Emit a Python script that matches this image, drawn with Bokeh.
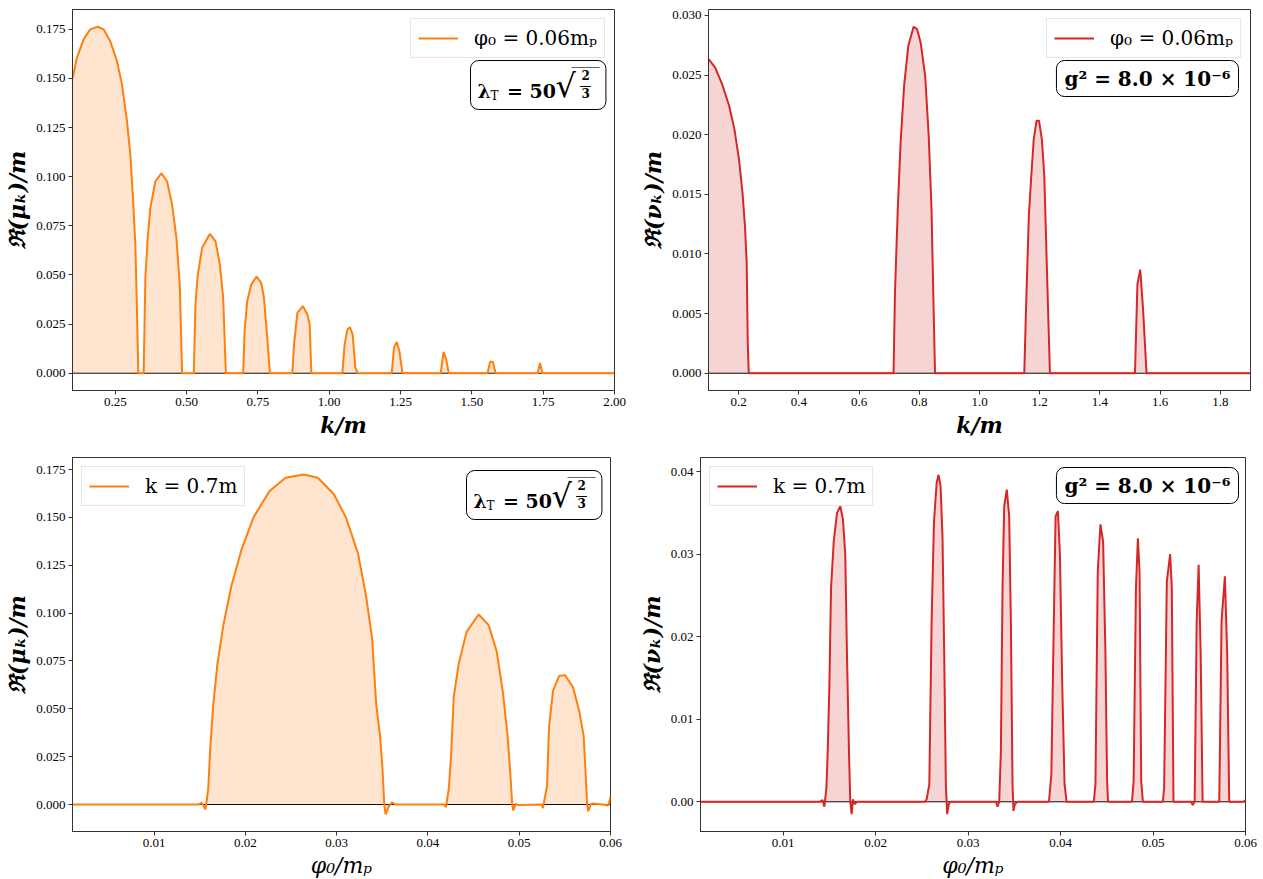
from bokeh.plotting import figure
from bokeh.models import (Range1d, FixedTicker, PrintfTickFormatter, Span, Label,
                          Legend, LegendItem)
from bokeh.layouts import column, row
from bokeh.embed import file_html
from bokeh.resources import INLINE

# ---------------- data ----------------
# top-left: Re(mu_k)/m vs k/m, phi0 = 0.06 m_p
k_tl = [0.1, 0.1153, 0.1388, 0.162, 0.188, 0.209, 0.2324, 0.2559, 0.2734, 0.291, 0.3027, 0.312, 0.3203, 0.326, 0.3308, 0.3495,
        0.3554, 0.3636, 0.373, 0.3905, 0.4116, 0.4315, 0.449, 0.4643, 0.476, 0.4842, 0.5252,
        0.531, 0.5392, 0.5545, 0.5814, 0.6013, 0.6165, 0.6282, 0.6376, 0.6985,
        0.7032, 0.7125, 0.7266, 0.7453, 0.7617, 0.7711, 0.7828, 0.7922, 0.8706,
        0.8765, 0.8882, 0.9081, 0.9233, 0.9315, 0.9374, 1.046,
        1.054, 1.0635, 1.0727, 1.0821, 1.0915, 1.1008, 1.219,
        1.227, 1.2366, 1.246, 1.2566, 1.391,
        1.4006, 1.410, 1.419, 1.555,
        1.564, 1.5737, 1.583, 1.7306,
        1.7387, 1.747, 2.0]
mu_tl = [0.150, 0.1605, 0.1699, 0.175, 0.1763, 0.175, 0.169, 0.1588, 0.147, 0.1283, 0.1113, 0.0893, 0.0655, 0.0316, 0.0, 0.0,
         0.0485, 0.0689, 0.0842, 0.0977, 0.1017, 0.0977, 0.0859, 0.0689, 0.0451, 0.0, 0.0,
         0.035, 0.0502, 0.0638, 0.0709, 0.0672, 0.0553, 0.0384, 0.0, 0.0,
         0.0214, 0.0367, 0.0451, 0.0492, 0.046, 0.0384, 0.018, 0.0, 0.0,
         0.0146, 0.0307, 0.0341, 0.0299, 0.0248, 0.0, 0.0,
         0.0146, 0.0222, 0.0234, 0.0197, 0.0027, 0.0, 0.0,
         0.0129, 0.0159, 0.0112, 0.0, 0.0,
         0.0108, 0.0070, 0.0, 0.0,
         0.0058, 0.0058, 0.0, 0.0,
         0.0052, 0.0, 0.0]

# top-right: Re(nu_k)/m vs k/m, phi0 = 0.06 m_p
k_tr = [0.1, 0.1218, 0.1452, 0.1685, 0.186, 0.2012, 0.2128, 0.221, 0.2268, 0.2303, 0.2338, 0.7146,
        0.7193, 0.7286, 0.738, 0.7496, 0.7636, 0.7811, 0.7928, 0.8044, 0.8196, 0.8313, 0.8406, 0.8476, 0.8523, 1.1487,
        1.1545, 1.1639, 1.172, 1.1802, 1.1895, 1.1977, 1.207, 1.2152, 1.2245, 1.2339, 1.5163,
        1.5245, 1.5338, 1.5431, 1.5548, 1.9]
nu_tr = [0.02634, 0.02564, 0.02424, 0.02243, 0.02047, 0.01796, 0.01517, 0.01237, 0.0093, 0.0026, 0.0, 0.0,
         0.00679, 0.01377, 0.01936, 0.0241, 0.02746, 0.02905, 0.02885, 0.02774, 0.02494, 0.01991, 0.01377, 0.00539, 0.0, 0.0,
         0.00539, 0.01321, 0.01656, 0.01963, 0.02117, 0.02117, 0.01963, 0.01656, 0.00818, 0.0, 0.0,
         0.00749, 0.00869, 0.00539, 0.0, 0.0]

# bottom-left: Re(mu_k)/m vs phi0/m_p, k = 0.7 m
phi_bl = [0.001, 0.01485, 0.01523, 0.01562, 0.01592, 0.01615, 0.01648, 0.01692, 0.01758, 0.01846, 0.01956, 0.02088,
          0.02264, 0.0244, 0.02639, 0.02793, 0.02969, 0.03101, 0.03233, 0.03321, 0.03388, 0.03432, 0.03476, 0.03502,
          0.03521, 0.03536, 0.03567, 0.03605, 0.03643, 0.04178,
          0.04197, 0.04228, 0.04255, 0.04282, 0.04335, 0.04423, 0.04555, 0.04665, 0.04753, 0.04819, 0.04873, 0.04904,
          0.04923, 0.04935, 0.04961, 0.0499, 0.05248,
          0.05259, 0.05305, 0.05326, 0.0537, 0.05436, 0.05502, 0.0559, 0.05656, 0.05706, 0.05725, 0.05744, 0.05756,
          0.05783, 0.058, 0.05916, 0.05974, 0.06]
mu_bl = [0.0, 0.0, 0.0009, -0.0026, 0.0081, 0.030, 0.0526, 0.0731, 0.0937, 0.1142, 0.133, 0.150,
         0.1638, 0.1707, 0.1724, 0.1707, 0.1621, 0.150, 0.1313, 0.1091, 0.0868, 0.0526, 0.0354, 0.0184,
         0.0, -0.0052, -0.0014, 0.0012, 0.0, 0.0,
         -0.0014, 0.0081, 0.027, 0.056, 0.0731, 0.0902, 0.0993, 0.0937, 0.080, 0.0594, 0.0357, 0.015,
         0.0, -0.0031, 0.0003, -0.0002, 0.0,
         -0.0019, 0.0098, 0.040, 0.0594, 0.0671, 0.0676, 0.0611, 0.0491, 0.0357, 0.0184, 0.0, -0.0036,
         0.0, 0.0005, 0.0, -0.0005, 0.0038]

# bottom-right: Re(nu_k)/m vs phi0/m_p, k = 0.7 m
phi_br = [0.001, 0.01395, 0.01425, 0.01445, 0.01467, 0.01481, 0.01499, 0.01517, 0.01546, 0.01582, 0.01617, 0.01646,
          0.01671, 0.01689, 0.01711, 0.01725, 0.0174, 0.01754, 0.01772, 0.01797,
          0.02533, 0.02551, 0.0258, 0.02605, 0.0263, 0.02659, 0.0268, 0.02702, 0.02723, 0.02741, 0.02759, 0.02773,
          0.02791, 0.02809,
          0.033, 0.03318, 0.03336, 0.03354, 0.03372, 0.0339, 0.03418, 0.03444, 0.03462, 0.0348, 0.0349, 0.03505, 0.03533,
          0.03874, 0.039, 0.03921, 0.03946, 0.03971, 0.03993, 0.04018, 0.04043, 0.04065,
          0.04359, 0.04377, 0.04402, 0.04431, 0.0446, 0.04485, 0.04503, 0.04513,
          0.04772, 0.0479, 0.04815, 0.04836, 0.04854, 0.04872, 0.0489,
          0.05106, 0.0512, 0.05149, 0.05185, 0.05203, 0.05221,
          0.0541, 0.05429, 0.0545, 0.05472, 0.05493, 0.05515, 0.05536,
          0.05716, 0.05741, 0.05777, 0.05802, 0.05824, 0.0598, 0.06]
nu_br = [0.0, 0.0, 0.0002, -0.0006, 0.0017, 0.0061, 0.014, 0.0259, 0.0315, 0.035, 0.0358, 0.0342,
         0.0299, 0.018, 0.0061, 0.0, -0.0015, 0.0003, -0.0003, 0.0,
         0.0, 0.0003, 0.0021, 0.0219, 0.0338, 0.0386, 0.0396, 0.0382, 0.0319, 0.018, 0.0021, -0.0015,
         -0.0003, 0.0,
         0.0, -0.0006, 0.0, 0.0061, 0.0259, 0.0358, 0.0378, 0.0346, 0.0219, 0.0021, -0.0011, -0.0003, 0.0,
         0.0, 0.0033, 0.018, 0.0346, 0.0352, 0.0299, 0.014, 0.0021, 0.0,
         0.0, 0.0021, 0.0279, 0.0336, 0.0315, 0.018, 0.0025, 0.0,
         0.0, 0.0025, 0.0259, 0.0319, 0.0279, 0.0025, 0.0,
         0.0, 0.0017, 0.0267, 0.030, 0.0259, 0.0,
         0.0, -0.0004, 0.0, 0.0219, 0.0287, 0.018, 0.0,
         0.0, 0.0219, 0.0273, 0.018, 0.0, 0.0, 0.0002]

# axis limits and ticks
xlim_tl = [0.1, 2.0];       ylim_tl = [-0.0088, 0.1851]
xlim_tr = [0.1, 1.9];       ylim_tr = [-0.00145, 0.0305]
xlim_bl = [0.00105, 0.06];  ylim_bl = [-0.0141, 0.1813]
xlim_br = [0.00105, 0.06];  ylim_br = [-0.0036, 0.0417]
xticks_tl = [0.25, 0.5, 0.75, 1.0, 1.25, 1.5, 1.75, 2.0]
xticks_tr = [0.2, 0.4, 0.6, 0.8, 1.0, 1.2, 1.4, 1.6, 1.8]
xticks_b = [0.01, 0.02, 0.03, 0.04, 0.05, 0.06]
yticks_mu = [0.0, 0.025, 0.05, 0.075, 0.1, 0.125, 0.15, 0.175]
yticks_tr = [0.0, 0.005, 0.01, 0.015, 0.02, 0.025, 0.03]
yticks_br = [0.0, 0.01, 0.02, 0.03, 0.04]

legend_top = "φ₀ = 0.06mₚ"
legend_bottom = "k = 0.7m"
label_mu = "ℜ(μₖ)/m"
label_nu = "ℜ(νₖ)/m"
label_k = "k/m"
label_phi = "φ₀/mₚ"
note_lambda = "λ\u2002 = 50"       # followed by subscript T and sqrt(2/3)
note_lambda_sub = "T"
note_sqrt = "√"
note_num = "2"
note_den = "3"
note_bar = "—"
note_over = "‾‾‾‾"
note_g = "g² = 8.0 × 10⁻⁶"

ORANGE = "#ff7f0e"
RED = "#d62728"
TICK_FONT = "Liberation Serif"
MATH_FONT = "DejaVu Serif"


def panel(xs, ys, color, xlim, ylim, xticks, yticks, xfmt, yfmt, xlabel, ylabel,
          xlabel_style, fw, fh, bl, br, bt, bb, legend_text, legend_loc):
    p = figure(frame_width=fw, frame_height=fh,
               x_range=Range1d(*xlim), y_range=Range1d(*ylim),
               output_backend="svg", toolbar_location=None,
               min_border_left=bl, min_border_right=br,
               min_border_top=bt, min_border_bottom=bb,
               background_fill_color="white", border_fill_color="white")
    p.grid.visible = False
    p.outline_line_color = "#333333"
    p.outline_line_width = 1
    zero = Span(location=0, dimension="width", line_color="black",
                line_width=1, level="underlay")
    p.add_layout(zero)
    p.varea(x=xs, y1=0, y2=ys, fill_color=color, fill_alpha=0.2)
    r = p.line(xs, ys, line_color=color, line_width=2)

    for ax, ticks, fmt in ((p.xaxis[0], xticks, xfmt), (p.yaxis[0], yticks, yfmt)):
        ax.ticker = FixedTicker(ticks=ticks)
        ax.formatter = PrintfTickFormatter(format=fmt)
        ax.minor_tick_line_color = None
        ax.major_tick_in = 0
        ax.major_tick_out = 4
        ax.major_tick_line_color = "#333333"
        ax.axis_line_color = "#333333"
        ax.major_label_text_font = TICK_FONT
        ax.major_label_text_font_size = "13px"
        ax.major_label_text_color = "black"
        ax.major_label_standoff = 3
        ax.axis_label_text_font = MATH_FONT
        ax.axis_label_text_color = "black"
        ax.axis_label_standoff = 3
    p.xaxis.axis_label = xlabel
    p.xaxis.axis_label_text_font_style = xlabel_style
    p.xaxis.axis_label_text_font_size = "22px"
    p.yaxis.axis_label = ylabel
    p.yaxis.axis_label_text_font_style = "bold italic"
    p.yaxis.axis_label_text_font_size = "22px"

    leg = Legend(items=[LegendItem(label=legend_text, renderers=[r])],
                 location=legend_loc, margin=9, padding=7, spacing=0,
                 glyph_width=40, glyph_height=20, label_standoff=16,
                 border_line_color="#cccccc", border_line_width=1,
                 background_fill_color="white", background_fill_alpha=0.8,
                 label_text_font=MATH_FONT, label_text_font_size="20px",
                 label_text_color="black")
    p.add_layout(leg)
    return p


def text_at(p, text, x, y, size, style="normal", align="left"):
    lab = Label(x=x, y=y, x_units="screen", y_units="screen", text=text,
                text_align=align, text_baseline="top",
                text_font=MATH_FONT, text_font_style=style, text_font_size=size,
                text_color="black")
    p.add_layout(lab)


def lambda_note(p, fh, dx, dy):
    # box with main text "λ  = 50"; subscript and sqrt(2/3) are laid over it
    # padding order: (left, right, top, bottom)
    box = Label(x=dx, y=fh - dy, x_units="screen", y_units="screen", text=note_lambda,
                text_align="left", text_baseline="top",
                text_font=MATH_FONT, text_font_style="bold", text_font_size="19px",
                text_color="black", padding=(7, 50, 19, 8),
                border_line_color="black", border_line_width=1,
                background_fill_color="white", border_radius=8)
    p.add_layout(box)
    text_at(p, note_lambda_sub, dx + 20, fh - dy - 28, "12px")
    text_at(p, note_sqrt, dx + 85, fh - dy - 6, "32px")
    text_at(p, note_over, dx + 101, fh - dy - 5, "14px")
    text_at(p, note_num, dx + 111, fh - dy - 9, "12px", "bold")
    text_at(p, note_bar, dx + 109, fh - dy - 18, "12px")
    text_at(p, note_den, dx + 111, fh - dy - 27, "12px", "bold")


def g_note(p, fw, fh, dx_right, dy):
    lab = Label(x=fw - dx_right, y=fh - dy, x_units="screen", y_units="screen", text=note_g,
                text_align="right", text_baseline="top",
                text_font=MATH_FONT, text_font_style="bold", text_font_size="20px",
                text_color="black", padding=(8, 8, 6, 6),
                border_line_color="black", border_line_width=1,
                background_fill_color="white", border_radius=8)
    p.add_layout(lab)


FW_TL, FW_TR, FW_BL, FW_BR = 542, 542, 538, 545
FH_T, FH_B = 381, 374

p_tl = panel(k_tl, mu_tl, ORANGE, xlim_tl, ylim_tl, xticks_tl, yticks_mu, "%.2f", "%.3f",
             label_k, label_mu, "bold italic", FW_TL, FH_T, 72, 16, 9, 57, legend_top, "top_right")
p_tr = panel(k_tr, nu_tr, RED, xlim_tr, ylim_tr, xticks_tr, yticks_tr, "%.1f", "%.3f",
             label_k, label_nu, "bold italic", FW_TR, FH_T, 78, 12, 9, 57, legend_top, "top_right")
p_bl = panel(phi_bl, mu_bl, ORANGE, xlim_bl, ylim_bl, xticks_b, yticks_mu, "%.2f", "%.3f",
             label_phi, label_mu, "italic", FW_BL, FH_B, 72, 20, 10, 46, legend_bottom, "top_left")
p_br = panel(phi_br, nu_br, RED, xlim_br, ylim_br, xticks_b, yticks_br, "%.2f", "%.2f",
             label_phi, label_nu, "italic", FW_BR, FH_B, 70, 16, 10, 46, legend_bottom, "top_left")

lambda_note(p_tl, FH_T, 398, 51)
lambda_note(p_bl, FH_B, 394, 13)
g_note(p_tr, FW_TR, FH_T, 12, 51)
g_note(p_br, FW_BR, FH_B, 7, 10)

layout = column(row(p_tl, p_tr), row(p_bl, p_br))
open("out.html", "w").write(file_html(layout, INLINE))
